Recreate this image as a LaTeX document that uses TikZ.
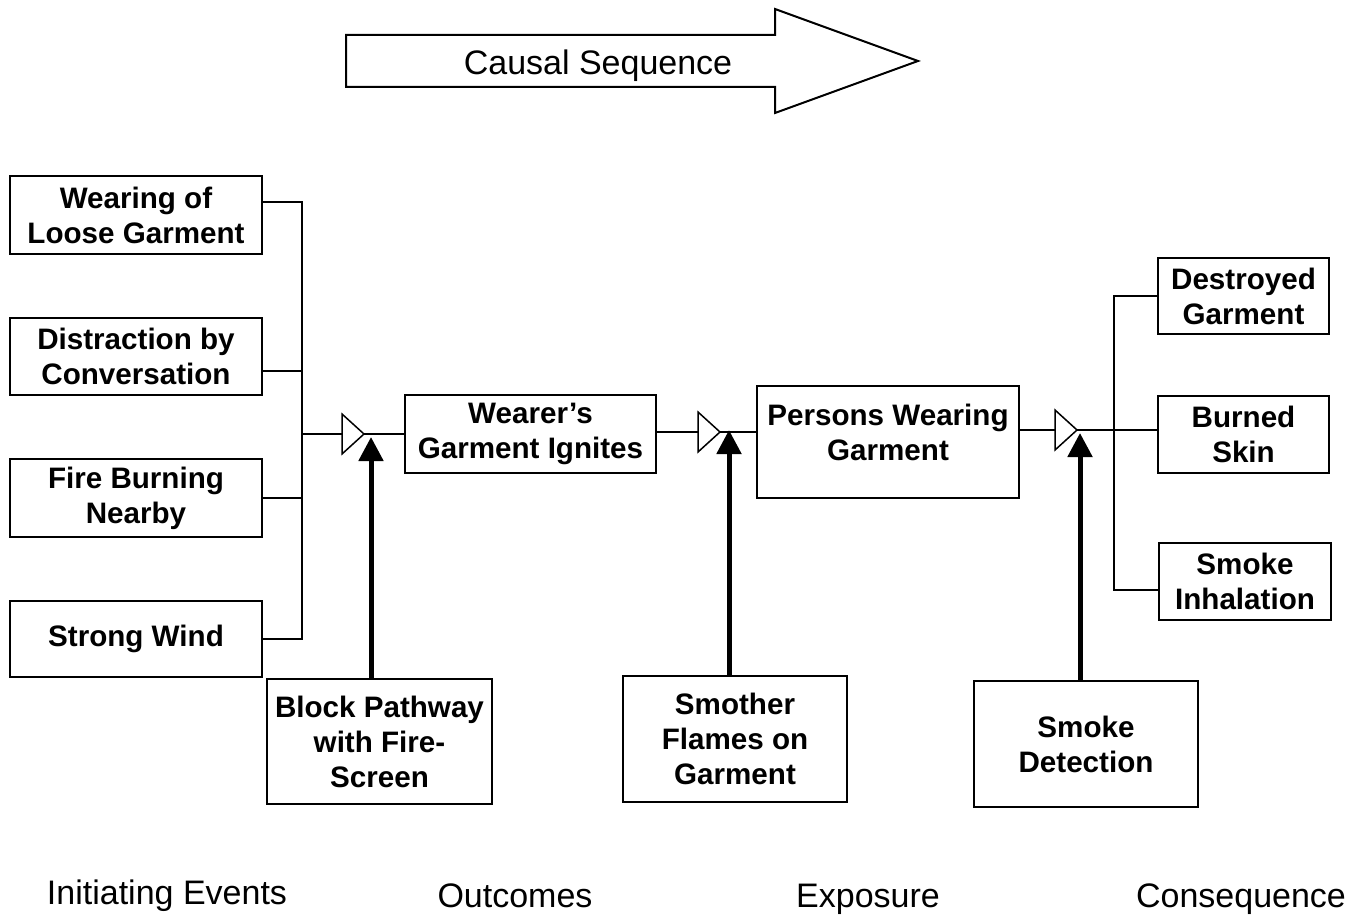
\documentclass[tikz,border=0pt]{standalone}
\usepackage{fontspec}
\setmainfont{Liberation Sans}
\usepackage{tikz}
\usetikzlibrary{arrows.meta}

\newcommand{\boxfont}{\fontsize{29.6}{35}\selectfont\bfseries}
\newcommand{\labelfont}{\fontsize{34}{40}\selectfont}

\begin{document}
\begin{tikzpicture}[x=1pt, y=-1pt]
	\useasboundingbox (0,0) rectangle (1357,915);

	\draw[line width=2pt, line join=miter] (346,35) -- (775,35) -- (775,9) -- (918,61)
		-- (775,113) -- (775,87) -- (346,87) -- cycle;
	\node[font=\labelfont, anchor=base] (causal) at (598,75) {Causal Sequence};

	\begin{scope}[every node/.style={draw, line width=2pt, inner sep=0pt, align=center, font=\boxfont}]
		\node[minimum width=252pt, minimum height=78pt] (w1) at (136,215) {Wearing of\\Loose Garment};
		\node[minimum width=252pt, minimum height=77pt] (w2) at (136,356.5) {Distraction by\\Conversation};
		\node[minimum width=252pt, minimum height=78pt] (w3) at (136,498) {Fire Burning\\Nearby};
		\node[minimum width=252pt, minimum height=76pt] (w4) at (136,639) {Strong Wind};
		\node[minimum width=251pt, minimum height=78pt] (wg) at (530.5,434) {Wearer’s\\Garment Ignites};
		\node[minimum width=262pt, minimum height=112pt] (pw) at (888,442) {};
		\node[minimum width=171pt, minimum height=76pt] (dg) at (1243.5,296) {Destroyed\\Garment};
		\node[minimum width=171pt, minimum height=77pt] (bs) at (1243.5,434.5) {Burned\\Skin};
		\node[minimum width=172pt, minimum height=77pt] (si) at (1245,581.5) {Smoke\\Inhalation};
		\node[minimum width=225pt, minimum height=125pt] (bp) at (379.5,741.5) {Block Pathway\\with Fire-\\Screen};
		\node[minimum width=224pt, minimum height=126pt] (sm) at (735,739) {Smother\\Flames on\\Garment};
		\node[minimum width=224pt, minimum height=126pt] (sd) at (1086,744) {Smoke\\Detection};
	\end{scope}
	\node[font=\boxfont, align=center, inner sep=0pt] (pwtext) at (888,432) {Persons Wearing\\Garment};

	\coordinate (lbus) at (302,434);
	\coordinate (rbus) at (1114,430);
	\foreach \g/\x/\y in {g1/364/434, g2/720/432, g3/1077/430}
	{
		\coordinate (\g) at (\x,\y);
		\coordinate (\g in) at (\x-22,\y);
	}

	\begin{scope}[every edge/.style={draw=black, line width=2pt, line cap=rect}]
		\foreach \b/\s in {w1/13pt, w2/-14pt, w3/0pt, w4/0pt}
		{\path ([yshift=\s]\b.east) edge ([yshift=\s]\b.east -| lbus);}
		\path ([yshift=13pt]w1.east -| lbus) edge (w4.east -| lbus);
		\path (lbus) edge (g1in);
		\path (g1) edge (g1 -| wg.west);
		\path (g2in -| wg.east) edge (g2in);
		\path (g2) edge (g2 -| pw.west);
		\path (g3in -| pw.east) edge (g3in);
		\path (g3) edge (g3 -| bs.west);
		\foreach \b/\s in {dg/0pt, si/-8pt}
		{\path ([yshift=\s]\b.west) edge ([yshift=\s]\b.west -| rbus);}
		\path (dg.west -| rbus) edge ([yshift=-8pt]si.west -| rbus);
	\end{scope}

	\foreach \g in {g1, g2, g3}
	{\draw[line width=1.5pt, fill=white] (\g) -- ++(-22,-20) -- ++(0,40) -- cycle;}

	\coordinate (t1) at (371,437);
	\coordinate (t2) at (729,430);
	\coordinate (t3) at (1080,433);
	\begin{scope}[line width=5pt, -{Triangle[length=24pt, width=24pt]}]
		\foreach \c/\t in {bp/t1, sm/t2, sd/t3}
		{\draw (\c.north -| \t) -- (\t);}
	\end{scope}

	\begin{scope}[every node/.style={font=\labelfont, anchor=base}]
		\node (init) at (167,904) {Initiating Events};
		\node (outc) at (515,907) {Outcomes};
		\node (expo) at (868,907) {Exposure};
		\node (cons) at (1241,907) {Consequence};
	\end{scope}
\end{tikzpicture}
\end{document}
